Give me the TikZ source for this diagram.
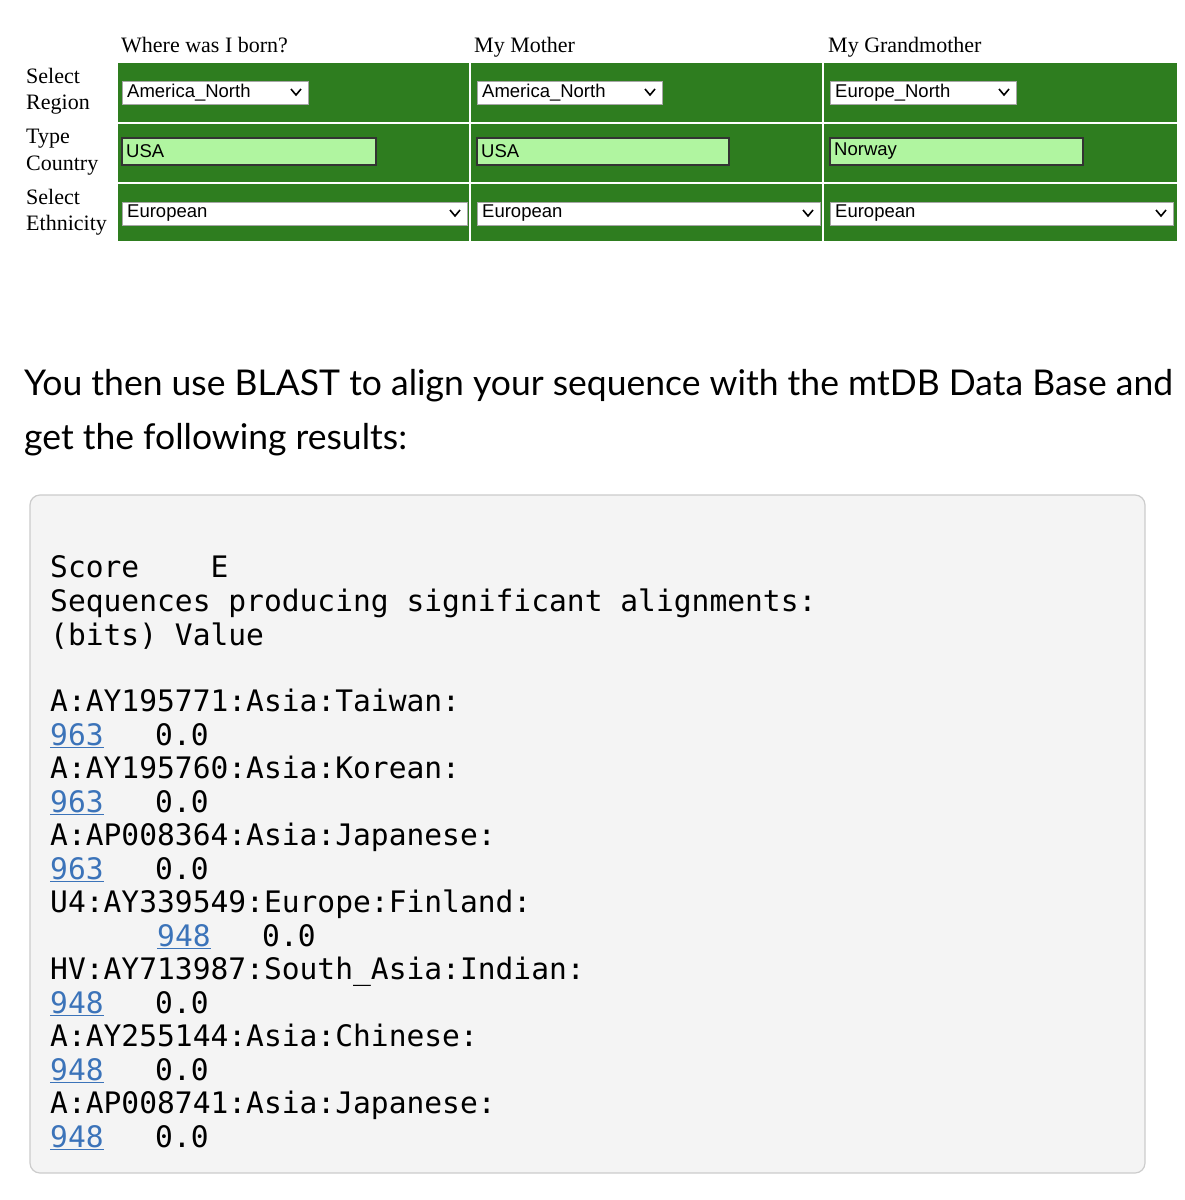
\documentclass[tikz,border=0pt]{standalone}
\usepackage{fontspec}
\setmainfont{Liberation Serif}
\setsansfont{Liberation Sans}
\setmonofont{DejaVu Sans Mono}
\newfontfamily\latofont{Lato}
\usetikzlibrary{positioning}
\definecolor{tgreen}{HTML}{2E7D1F}
\definecolor{tlight}{HTML}{B0F5A0}
\definecolor{linkblue}{HTML}{3B73B9}
\definecolor{boxgray}{HTML}{F4F4F4}
\definecolor{boxline}{HTML}{CCCCCC}
\tikzset{
 hdr/.style={anchor=base west,font=\fontsize{22}{24}\selectfont,inner sep=0},
 rowlab/.style={anchor=north west,align=left,font=\fontsize{22}{26.5}\selectfont,inner sep=0},
 cell/.style={fill=tgreen,draw=none},
 sel/.style={fill=white,draw=gray!70,line width=1},
 inp/.style={fill=tlight,draw=black!80,line width=2},
 ctl/.style={anchor=west,font=\sffamily\fontsize{18.5}{20}\selectfont,inner sep=0},
 chev/.style={line width=1.6,black},
 para/.style={anchor=base west,font=\latofont\fontsize{35.5}{38}\selectfont,inner sep=0},
 mono/.style={anchor=base west,font=\ttfamily\fontsize{29.6}{31}\selectfont,inner sep=0},
 lnk/.style={mono,text=linkblue},
}
\newcommand{\mylink}[1]{\underline{#1}}
\begin{document}
\begin{tikzpicture}[x=1pt,y=-1pt]
\useasboundingbox (0,0) rectangle (1185,1200);
\fill[white] (0,0) rectangle (1185,1200);
% header
\node[hdr] (h1) at (121,52) {Where was I born?};
\node[hdr] (h2) at (474,52) {My Mother};
\node[hdr] (h3) at (828,52) {My Grandmother};
% row labels
\node[rowlab] (r1) at (26,68) {Select\\Region};
\node[rowlab] (r2) at (26,129) {Type\\Country};
\node[rowlab] (r3) at (26,189) {Select\\Ethnicity};
% green cells
\foreach \xa/\xb in {118/469,471/822,824/1177}{
  \foreach \ya/\yb in {63/122,124/182,184/241}{
    \fill[tgreen] (\xa,\ya) rectangle (\xb,\yb);
  }
}
% row 1 dropdowns
\foreach \xa/\xb/\t/\n in {122/308/America\_North/a,477/662/America\_North/b,830/1016/Europe\_North/c}{
  \draw[sel] (\xa,81) rectangle (\xb,104);
  \node[ctl] (d1\n) at (\xa+5,92.5) {\t};
  \draw[chev] (\xb-17,89) -- (\xb-12,95) -- (\xb-7,89);
}
% row 2 inputs
\foreach \xa/\xb/\t/\n in {122/376/USA/a,477/729/USA/b,830/1083/Norway/c}{
  \draw[inp] (\xa,138) rectangle (\xb,165);
  \node[ctl] (d2\n) at (\xa+4,151.5) {\t};
}
% row 3 dropdowns
\foreach \xa/\xb/\n in {122/467/a,477/820/b,830/1173/c}{
  \draw[sel] (\xa,202) rectangle (\xb,225);
  \node[ctl] (d3\n) at (\xa+5,213.5) {European};
  \draw[chev] (\xb-17,210) -- (\xb-12,216) -- (\xb-7,210);
}
% paragraph
\node[para] (p1) at (24,395) {You then use BLAST to align your sequence with the mtDB Data Base and};
\node[para] (p2) at (24,449) {get the following results:};
% box
\draw[fill=boxgray,draw=boxline,line width=1.2,rounded corners=10] (30,495) rectangle (1145,1173);
\node[mono] (m1) at (50,577) {Score\ \ \ \ E};
\node[mono] (m2) at (50,611) {Sequences producing significant alignments:};
\node[mono] (m3) at (50,645) {(bits) Value};
\node[mono] (m4) at (50,711) {A:AY195771:Asia:Taiwan:};
\node[lnk] (l4) at (50,745) {\mylink{963}};
\node[mono] (v4) at (155,745) {0.0};
\node[mono] (m5) at (50,778) {A:AY195760:Asia:Korean:};
\node[lnk] (l5) at (50,812) {\mylink{963}};
\node[mono] (v5) at (155,812) {0.0};
\node[mono] (m6) at (50,845) {A:AP008364:Asia:Japanese:};
\node[lnk] (l6) at (50,879) {\mylink{963}};
\node[mono] (v6) at (155,879) {0.0};
\node[mono] (m7) at (50,912) {U4:AY339549:Europe:Finland:};
\node[lnk] (l7) at (157,946) {\mylink{948}};
\node[mono] (v7) at (262,946) {0.0};
\node[mono] (m8) at (50,979) {HV:AY713987:South\_Asia:Indian:};
\node[lnk] (l8) at (50,1013) {\mylink{948}};
\node[mono] (v8) at (155,1013) {0.0};
\node[mono] (m9) at (50,1046) {A:AY255144:Asia:Chinese:};
\node[lnk] (l9) at (50,1080) {\mylink{948}};
\node[mono] (v9) at (155,1080) {0.0};
\node[mono] (m10) at (50,1113) {A:AP008741:Asia:Japanese:};
\node[lnk] (l10) at (50,1147) {\mylink{948}};
\node[mono] (v10) at (155,1147) {0.0};
\end{tikzpicture}
\end{document}
